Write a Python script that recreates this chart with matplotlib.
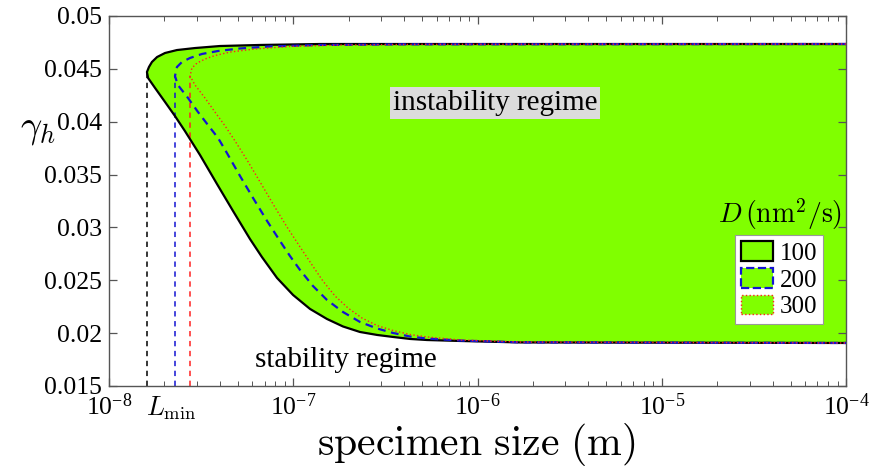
import numpy as np
import matplotlib
matplotlib.use("Agg")
import matplotlib.pyplot as plt
from matplotlib.patches import Patch
from matplotlib.ticker import LogLocator

plt.rcParams['font.family'] = ['Liberation Serif', 'DejaVu Serif']
plt.rcParams['mathtext.fontset'] = 'custom'
plt.rcParams['mathtext.rm'] = 'Liberation Serif'
plt.rcParams['mathtext.it'] = 'Liberation Serif:italic'

# stability boundaries, log10(size in m) vs gamma_h, closed from the right edge
# top branch -> left tip -> bottom branch
black_logL = [-4.000, -6.855, -7.180, -7.398, -7.533, -7.631, -7.696, -7.739, -7.767, -7.783, -7.794,
              -7.788, -7.750, -7.696, -7.642, -7.588, -7.506, -7.414, -7.327, -7.235, -7.170, -7.088,
              -7.001, -6.909, -6.817, -6.730, -6.638, -6.545, -6.459, -6.366, -6.274, -6.095, -5.769, -4.000]
black_gamma = [0.04735, 0.04735, 0.04726, 0.04716, 0.04697, 0.04678, 0.04650, 0.04612, 0.04565, 0.04518, 0.04470,
               0.04414, 0.04319, 0.04187, 0.04054, 0.03912, 0.03685, 0.03411, 0.03156, 0.02891, 0.02720, 0.02522,
               0.02361, 0.02229, 0.02134, 0.02063, 0.02011, 0.01983, 0.01964, 0.01945, 0.01935, 0.01926, 0.01912, 0.01907]

blue_logL = [-4.000, -6.421, -6.855, -7.126, -7.289, -7.408, -7.495, -7.560, -7.604, -7.631, -7.642,
             -7.626, -7.571, -7.517, -7.463, -7.408, -7.360, -7.289, -7.218, -7.142, -7.072, -7.018,
             -6.963, -6.893, -6.817, -6.730, -6.638, -6.545, -6.459, -6.366, -6.274, -6.095, -5.769, -4.000]
blue_gamma = [0.04735, 0.04732, 0.04726, 0.04712, 0.04693, 0.04669, 0.04641, 0.04603, 0.04565, 0.04518, 0.04432,
              0.04347, 0.04224, 0.04092, 0.03969, 0.03846, 0.03704, 0.03487, 0.03278, 0.03061, 0.02872, 0.02730,
              0.02597, 0.02446, 0.02314, 0.02200, 0.02106, 0.02044, 0.02002, 0.01968, 0.01949, 0.01930, 0.01913, 0.01907]

red_logL = [-4.000, -6.312, -6.746, -7.018, -7.208, -7.343, -7.425, -7.479, -7.522, -7.550, -7.560,
            -7.533, -7.479, -7.425, -7.370, -7.316, -7.251, -7.180, -7.110, -7.034, -6.963, -6.898,
            -6.839, -6.773, -6.703, -6.627, -6.545, -6.459, -6.366, -6.274, -6.095, -5.769, -4.000]
red_gamma = [0.04735, 0.04732, 0.04726, 0.04712, 0.04688, 0.04659, 0.04626, 0.04593, 0.04555, 0.04508, 0.04432,
             0.04347, 0.04224, 0.04092, 0.03960, 0.03818, 0.03638, 0.03430, 0.03222, 0.03004, 0.02815, 0.02645,
             0.02493, 0.02351, 0.02238, 0.02143, 0.02072, 0.02025, 0.01987, 0.01964, 0.01935, 0.01916, 0.01907]

# minimum specimen size (left tip) for each D
D_values = [100, 200, 300]
Lmin_log = [-7.794, -7.642, -7.560]
Lmin_gamma = [0.04470, 0.04432, 0.04432]

green = '#80ff00'
blue = '#1414d2'
red = '#ff2020'
axis_grey = '#555555'

fig = plt.figure(figsize=(8.71, 4.72), dpi=100)
ax = fig.add_axes([109 / 871, 1 - 386 / 472, 737 / 871, 370 / 472])

bx = 10 ** np.array(black_logL)
ux = 10 ** np.array(blue_logL)
rx = 10 ** np.array(red_logL)

ax.fill(bx, black_gamma, color=green, lw=0, zorder=1)

# vertical markers down from each tip
for lg, g, c in zip(Lmin_log, Lmin_gamma, ['k', blue, red]):
    ax.plot([10 ** lg, 10 ** lg], [0.015, g], color=c, lw=1.1, dashes=(3.5, 3), zorder=2)

ax.plot(bx, black_gamma, color='k', lw=1.6, zorder=3)
ax.plot(ux, blue_gamma, color=blue, lw=1.6, dashes=(3.5, 2.5), zorder=4)
ax.plot(rx, red_gamma, color=red, lw=1.0, ls=':', zorder=5)

ax.set_xscale('log')
ax.set_xlim(1e-8, 1e-4)
ax.set_ylim(0.015, 0.05)
ax.xaxis.set_major_locator(LogLocator(base=10, numticks=10))
ax.xaxis.set_minor_locator(LogLocator(base=10, subs=np.arange(2, 10), numticks=20))
ax.set_yticks([0.015, 0.02, 0.025, 0.03, 0.035, 0.04, 0.045, 0.05])
ax.set_yticklabels(['0.015', '0.02', '0.025', '0.03', '0.035', '0.04', '0.045', '0.05'])
ax.tick_params(which='both', direction='in', top=True, right=True, color=axis_grey,
               labelsize=18.5, pad=5)
ax.tick_params(which='major', length=6, width=0.9)
ax.tick_params(which='minor', length=3.5, width=0.7)
for s in ax.spines.values():
    s.set_color(axis_grey)
    s.set_linewidth(1.0)

ax.text(0.524, 0.765, 'instability regime', transform=ax.transAxes, fontsize=21,
        ha='center', va='center', zorder=6,
        bbox=dict(facecolor='#dcdcdc', edgecolor='none', pad=2))
ax.text(0.3216, 0.070, 'stability regime', transform=ax.transAxes, fontsize=21,
        ha='center', va='center', zorder=6)
ax.text(0.085, -0.06, r'$L_{\min}$', transform=ax.transAxes, fontsize=19,
        ha='center', va='center', math_fontfamily='cm')

fig.text(0.043, 0.725, r'$\gamma_h$', fontsize=27, ha='center', va='center', math_fontfamily='cm')
fig.text(0.547, 0.058, r'$\mathrm{specimen\ size\ (m)}$', fontsize=30, ha='center', va='center',
         math_fontfamily='cm')

# legend with the title sitting above the frame
ax.text(0.910, 0.465, r'$D\,(\mathrm{nm}^2/\mathrm{s})$', transform=ax.transAxes, fontsize=20,
        ha='center', va='center', math_fontfamily='cm', zorder=6)
handles = [Patch(facecolor=green, edgecolor='k', lw=1.6),
           Patch(facecolor=green, edgecolor=blue, lw=1.6, ls='--'),
           Patch(facecolor=green, edgecolor=red, lw=1.0, ls=':')]
leg = ax.legend(handles, [str(d) for d in D_values], loc='upper left', bbox_to_anchor=(0.849, 0.408),
                fontsize=18, frameon=True, fancybox=False, framealpha=1, edgecolor='#999999',
                handlelength=1.3, handleheight=0.85, handletextpad=0.25, labelspacing=0.12,
                borderpad=0.25, borderaxespad=0)
leg.get_frame().set_linewidth(0.8)
leg.set_zorder(7)

fig.savefig('out.png', dpi=100)
